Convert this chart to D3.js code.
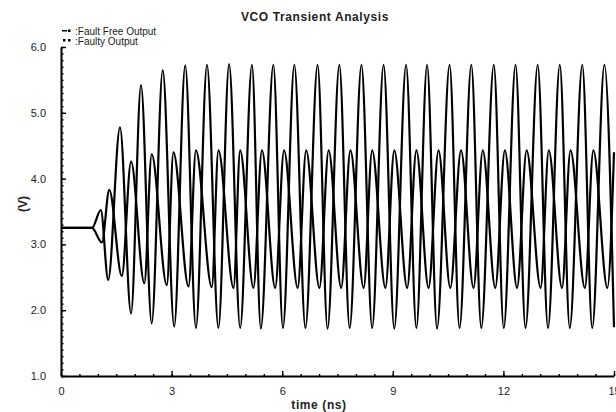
<!DOCTYPE html>
<html>
<head>
<style>
html, body { margin: 0; padding: 0; background: #fff; }
svg { display: block; }
text { font-family: "Liberation Sans", Arial, sans-serif; fill: #222; }
</style>
</head>
<body>
<svg width="616" height="412"></svg>
<script src="https://cdn.jsdelivr.net/npm/d3@7"></script>
<script>
// extrema, time in ns, voltage in V
var timesA = [0, 0.84, 1.08, 1.28, 1.60, 1.90, 2.17, 2.46, 2.76, 3.07, 3.37, 3.66, 3.96, 4.27, 4.56, 4.86,
  5.18, 5.42, 5.76, 6.02, 6.33, 6.63, 6.96, 7.23, 7.55, 7.83, 8.15, 8.44, 8.75, 9.04, 9.36, 9.64, 9.93,
  10.20, 10.54, 10.81, 11.13, 11.40, 11.74, 12.01, 12.33, 12.60, 12.93, 13.21, 13.53, 13.80, 14.14, 14.41, 14.74, 15.00];
var voltsA = [3.25, 3.25, 3.52, 2.46, 4.78, 1.95, 5.42, 1.80, 5.65, 1.75, 5.72, 1.73, 5.73, 1.73, 5.74, 1.73,
  5.73, 1.72, 5.73, 1.73, 5.73, 1.73, 5.73, 1.72, 5.73, 1.73, 5.73, 1.73, 5.73, 1.72, 5.73, 1.73, 5.73,
  1.72, 5.73, 1.73, 5.73, 1.73, 5.73, 1.73, 5.73, 1.73, 5.73, 1.73, 5.73, 1.73, 5.73, 1.73, 5.73, 1.74];

var timesB = [0, 0.84, 1.11, 1.31, 1.65, 1.90, 2.26, 2.46, 2.87, 3.05, 3.46, 3.66, 4.09, 4.27, 4.68, 4.86,
  5.22, 5.45, 5.81, 6.05, 6.42, 6.65, 7.01, 7.26, 7.60, 7.85, 8.21, 8.44, 8.80, 9.04, 9.39, 9.64, 9.97,
  10.24, 10.56, 10.85, 11.19, 11.44, 11.78, 12.04, 12.37, 12.63, 13.01, 13.23, 13.59, 13.82, 14.21, 14.44, 14.82, 15.00];
var voltsB = [3.25, 3.25, 3.03, 3.83, 2.52, 4.26, 2.41, 4.37, 2.38, 4.40, 2.36, 4.43, 2.35, 4.43, 2.34, 4.43,
  2.34, 4.43, 2.34, 4.43, 2.34, 4.43, 2.34, 4.43, 2.34, 4.43, 2.34, 4.43, 2.34, 4.43, 2.34, 4.43, 2.34,
  4.43, 2.34, 4.43, 2.34, 4.43, 2.34, 4.43, 2.34, 4.43, 2.34, 4.43, 2.34, 4.43, 2.34, 4.43, 2.34, 4.40];

var xTicks = [0, 3, 6, 9, 12, 15];
var yTicks = [1, 2, 3, 4, 5, 6];
var seriesNames = ["Fault Free Output", "Faulty Output"];

var svg = d3.select("svg");
var plotLeft = 61, plotRight = 614, plotTop = 47, plotBottom = 376;

var x = d3.scaleLinear().domain([0, 15]).range([plotLeft, plotRight]);
var y = d3.scaleLinear().domain([1, 6]).range([plotBottom, plotTop]);

// minor ticks
svg.append("g")
    .attr("transform", "translate(0," + plotBottom + ")")
    .call(d3.axisBottom(x).tickValues(d3.range(0, 15.01, 0.5)).tickSize(-2).tickFormat(""))
    .call(function(g){ g.select(".domain").remove(); });
svg.append("g")
    .attr("transform", "translate(" + plotLeft + ",0)")
    .call(d3.axisLeft(y).tickValues(d3.range(1, 6.01, 0.1)).tickSize(-2.5).tickFormat(""))
    .call(function(g){ g.select(".domain").remove(); });

// major axes
svg.append("g")
    .attr("transform", "translate(0," + plotBottom + ")")
    .call(d3.axisBottom(x).tickValues(xTicks).tickSize(-5).tickSizeOuter(0).tickPadding(11).tickFormat(d3.format("d")));
svg.append("g")
    .attr("transform", "translate(" + plotLeft + ",0)")
    .call(d3.axisLeft(y).tickValues(yTicks).tickSize(-5).tickSizeOuter(0).tickPadding(15).tickFormat(d3.format(".1f")));

svg.selectAll(".domain").attr("stroke", "#000").attr("stroke-width", 2);
svg.selectAll(".tick line").attr("stroke", "#000").attr("stroke-width", 1.4);
svg.selectAll(".tick text").style("font-size", "11px").style("fill", "#1a1a1a")
    .style("font-family", "'Liberation Sans', Arial, sans-serif");

// waveforms
var line = d3.line()
    .x(function(d){ return x(d[0]); })
    .y(function(d){ return y(d[1]); })
    .curve(d3.curveMonotoneX);

var dataA = timesA.map(function(t, i){ return [t, voltsA[i]]; });
var dataB = timesB.map(function(t, i){ return [t, voltsB[i]]; });

[dataB, dataA].forEach(function(d){
    svg.append("path")
        .attr("d", line(d))
        .attr("fill", "none")
        .attr("stroke", "#000")
        .attr("stroke-width", 2.2)
        .attr("stroke-linejoin", "round");
});

// titles
svg.append("text")
    .attr("x", 315).attr("y", 21)
    .attr("text-anchor", "middle")
    .style("font-size", "12px").style("font-weight", "bold").style("letter-spacing", "0.6px")
    .text("VCO Transient Analysis");

svg.append("text")
    .attr("x", 319).attr("y", 409)
    .attr("text-anchor", "middle")
    .style("font-size", "12px").style("font-weight", "bold").style("letter-spacing", "0.6px")
    .text("time (ns)");

svg.append("text")
    .attr("transform", "translate(27,204) rotate(-90)")
    .attr("text-anchor", "middle")
    .style("font-size", "12px").style("font-weight", "bold")
    .text("(V)");

// legend
var legend = svg.append("g");
legend.append("rect").attr("x", 62).attr("y", 30).attr("width", 5).attr("height", 1.5).attr("fill", "#000");
legend.append("rect").attr("x", 68).attr("y", 29.5).attr("width", 2.5).attr("height", 2.5).attr("fill", "#000");
legend.append("rect").attr("x", 63).attr("y", 39).attr("width", 2.5).attr("height", 2.5).attr("fill", "#000");
legend.append("rect").attr("x", 68).attr("y", 39).attr("width", 2.5).attr("height", 2.5).attr("fill", "#000");
legend.selectAll("text.lab")
    .data(seriesNames)
    .enter().append("text")
    .attr("class", "lab")
    .attr("x", 75)
    .attr("y", function(d, i){ return 35 + i * 9.5; })
    .style("font-size", "10px")
    .text(function(d){ return ":" + d; });
</script>
</body>
</html>
